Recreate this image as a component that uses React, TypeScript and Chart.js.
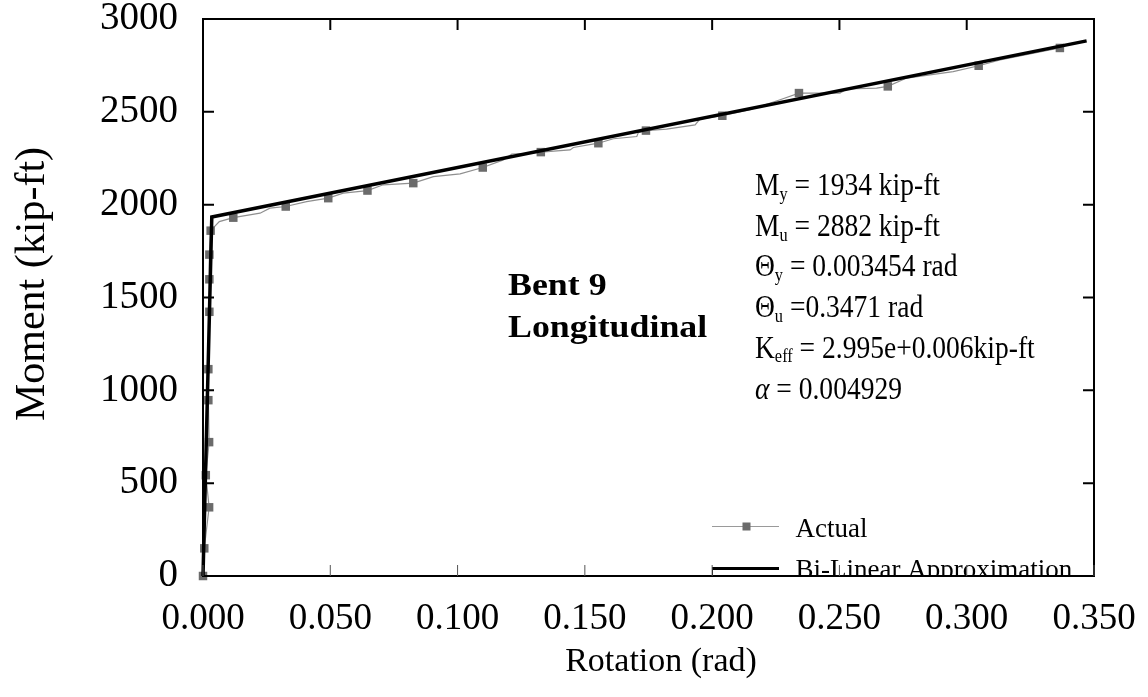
import React, { useEffect, useRef } from "react";
import { Chart, registerables } from "chart.js";

Chart.register(...registerables);

const FONT = '"Liberation Serif", "Times New Roman", serif';

// Measured moment–rotation response; a square marker is shown where actualMarked is 1
const actualRotation = [
  0, 0.0005, 0.0024, 0.0011, 0.0024, 0.0021, 0.0021, 0.0025, 0.0025, 0.0025,
  0.003, 0.0064, 0.0119, 0.0224, 0.0263, 0.0325, 0.0407, 0.0492, 0.0551, 0.0646,
  0.0708, 0.0826, 0.0905, 0.101, 0.1099, 0.118, 0.1213, 0.1285, 0.1327, 0.1442,
  0.1455, 0.1553, 0.1612, 0.1704, 0.171, 0.174, 0.1821, 0.1933, 0.1952, 0.204,
  0.2149, 0.2267, 0.2341, 0.2502, 0.2529, 0.2646, 0.269, 0.2764, 0.2947, 0.3047,
  0.3131, 0.3366,
];
const actualMoment = [
  0, 149, 370, 543, 721, 947, 1114, 1423, 1598, 1731,
  1860, 1909, 1930, 1954, 1981, 1990, 2016, 2035, 2062, 2076,
  2107, 2116, 2151, 2166, 2200, 2241, 2273, 2277, 2283, 2295,
  2308, 2331, 2355, 2367, 2388, 2399, 2407, 2430, 2461, 2479,
  2511, 2565, 2601, 2601, 2623, 2628, 2637, 2682, 2717, 2748,
  2780, 2844,
];
const actualMarked = [
  1, 1, 1, 1, 1, 1, 1, 1, 1, 1,
  1, 0, 1, 0, 0, 1, 0, 1, 0, 1,
  0, 1, 0, 0, 1, 0, 0, 0, 1, 0,
  0, 1, 0, 0, 0, 1, 0, 0, 0, 1,
  0, 0, 1, 0, 0, 0, 1, 0, 0, 1,
  0, 1,
];

// Idealized bi-linear curve
const yieldMoment = 1934;
const ultimateMoment = 2882;
const yieldRotation = 0.003454;
const ultimateRotation = 0.3471;
const bilinearRotation = [0, yieldRotation, ultimateRotation];
const bilinearMoment = [0, yieldMoment, ultimateMoment];

const xTicks = [0, 0.05, 0.1, 0.15, 0.2, 0.25, 0.3, 0.35];
const yTicks = [0, 500, 1000, 1500, 2000, 2500, 3000];

const titleLines = ["Bent 9", "Longitudinal"];
const xTitle = "Rotation (rad)";
const yTitle = "Moment (kip-ft)";
const legendLabels = ["Actual", "Bi-Linear Approximation"];

type Run = { t: string; size: number; dy?: number; style?: string };

// Annotation block: symbol, subscript, remainder
const paramLines: Run[][] = [
  [
    { t: "M", size: 32 },
    { t: "y", size: 19, dy: 5 },
    { t: ` = ${yieldMoment} kip-ft`, size: 32 },
  ],
  [
    { t: "M", size: 32 },
    { t: "u", size: 19, dy: 5 },
    { t: ` = ${ultimateMoment} kip-ft`, size: 32 },
  ],
  [
    { t: "\u0398", size: 32 },
    { t: "y", size: 19, dy: 5 },
    { t: ` = ${yieldRotation} rad`, size: 32 },
  ],
  [
    { t: "\u0398", size: 32 },
    { t: "u", size: 19, dy: 5 },
    { t: ` =${ultimateRotation} rad`, size: 32 },
  ],
  [
    { t: "K", size: 32 },
    { t: "eff", size: 19, dy: 4 },
    { t: " = 2.995e+0.006kip-ft", size: 32 },
  ],
  [
    { t: "\u03b1", size: 32, style: "italic" },
    { t: " = 0.004929", size: 32 },
  ],
];

function drawRuns(ctx: CanvasRenderingContext2D, runs: Run[], x: number, y: number, sx: number) {
  ctx.save();
  ctx.translate(x, y);
  ctx.scale(sx, 1);
  ctx.textAlign = "left";
  ctx.textBaseline = "alphabetic";
  ctx.fillStyle = "#000";
  let cx = 0;
  for (const r of runs) {
    ctx.font = `${r.style ?? ""} ${r.size}px ${FONT}`;
    ctx.fillText(r.t, cx, r.dy ?? 0);
    cx += ctx.measureText(r.t).width;
  }
  ctx.restore();
}

const overlayPlugin = {
  id: "overlay",
  afterDatasetsDraw(chart: any) {
    const ctx: CanvasRenderingContext2D = chart.ctx;
    const a = chart.chartArea;

    // Bold label
    titleLines.forEach((line, i) => {
      ctx.save();
      ctx.translate(508, 295 + i * 42);
      ctx.scale(1.12, 1);
      ctx.font = `bold 32px ${FONT}`;
      ctx.fillStyle = "#000";
      ctx.textBaseline = "alphabetic";
      ctx.fillText(line, 0, 0);
      ctx.restore();
    });

    // Parameter annotations
    paramLines.forEach((runs, i) => drawRuns(ctx, runs, 755, 195 + i * 40.7, 0.86));

    // Legend
    ctx.save();
    ctx.beginPath();
    ctx.rect(a.left, a.top, a.right - a.left, a.bottom - a.top);
    ctx.clip();
    ctx.strokeStyle = "#9a9a9a";
    ctx.lineWidth = 1;
    ctx.beginPath();
    ctx.moveTo(712, 526.5);
    ctx.lineTo(779, 526.5);
    ctx.stroke();
    ctx.fillStyle = "#6b6b6b";
    ctx.fillRect(742.5, 522.5, 8, 8);
    ctx.strokeStyle = "#000";
    ctx.lineWidth = 3;
    ctx.beginPath();
    ctx.moveTo(712, 568.5);
    ctx.lineTo(779, 568.5);
    ctx.stroke();
    ctx.lineWidth = 1;
    ctx.beginPath();
    ctx.moveTo(712.5, 568);
    ctx.lineTo(712.5, a.bottom);
    ctx.stroke();
    ctx.fillStyle = "#000";
    ctx.font = `27px ${FONT}`;
    ctx.textBaseline = "alphabetic";
    ctx.fillText(legendLabels[0], 795.5, 536.5);
    ctx.fillText(legendLabels[1], 795.5, 577.5);
    ctx.restore();
  },
  afterDraw(chart: any) {
    const ctx: CanvasRenderingContext2D = chart.ctx;
    const a = chart.chartArea;
    const xs = chart.scales.x;
    const ys = chart.scales.y;
    ctx.save();
    ctx.strokeStyle = "#000";
    ctx.lineCap = "square";

    // Frame
    ctx.lineWidth = 2;
    ctx.strokeRect(a.left, a.top, a.right - a.left, a.bottom - a.top);

    // Inward tick marks
    ctx.lineCap = "butt";
    for (const v of yTicks) {
      const py = ys.getPixelForValue(v);
      ctx.beginPath();
      ctx.moveTo(a.left, py);
      ctx.lineTo(a.left + 11, py);
      ctx.moveTo(a.right, py);
      ctx.lineTo(a.right - 11, py);
      ctx.stroke();
    }
    for (const v of xTicks) {
      const px = xs.getPixelForValue(v);
      ctx.lineWidth = 2;
      ctx.beginPath();
      ctx.moveTo(px, a.top);
      ctx.lineTo(px, a.top + 11);
      ctx.stroke();
      ctx.lineWidth = 1;
      ctx.strokeStyle = "#555";
      ctx.beginPath();
      ctx.moveTo(px, a.bottom);
      ctx.lineTo(px, a.bottom - 11);
      ctx.stroke();
      ctx.strokeStyle = "#000";
    }

    // Axis titles
    ctx.fillStyle = "#000";
    ctx.font = `34px ${FONT}`;
    ctx.textAlign = "center";
    ctx.textBaseline = "alphabetic";
    ctx.fillText(xTitle, 661, 671);
    ctx.save();
    ctx.translate(33, 284);
    ctx.rotate(-Math.PI / 2);
    ctx.font = `42px ${FONT}`;
    ctx.textBaseline = "middle";
    ctx.fillText(yTitle, 0, 0);
    ctx.restore();
    ctx.restore();
  },
};

// Drop the label-overhang padding so the plot area is set by layout.padding alone
const noOverhang = (s: any) => {
  s.paddingTop = 0;
  s.paddingBottom = 0;
  s.paddingLeft = 0;
  s.paddingRight = 0;
};

export default function App() {
  const ref = useRef<HTMLCanvasElement | null>(null);

  useEffect(() => {
    if (!ref.current) return;
    const chart = new Chart(ref.current, {
      type: "scatter",
      data: {
        datasets: [
          {
            label: legendLabels[1],
            data: bilinearRotation.map((r, i) => ({ x: r, y: bilinearMoment[i] })),
            showLine: true,
            borderColor: "#000",
            borderWidth: 3.5,
            pointRadius: 0,
            clip: 10,
          },
          {
            label: legendLabels[0],
            data: actualRotation.map((r, i) => ({ x: r, y: actualMoment[i] })),
            showLine: true,
            borderColor: "#8f8f8f",
            borderWidth: 1.2,
            pointStyle: "rect",
            pointRadius: actualMarked.map((m) => (m ? 6 : 0)),
            pointBackgroundColor: "#6b6b6b",
            pointBorderWidth: 0,
            clip: 10,
          },
        ],
      },
      options: {
        responsive: false,
        animation: false,
        events: [],
        layout: { padding: { top: 19, right: 54, left: 0, bottom: 0 } },
        plugins: { legend: { display: false }, tooltip: { enabled: false } },
        scales: {
          x: {
            type: "linear",
            min: 0,
            max: 0.35,
            grid: { display: false, drawTicks: false },
            border: { display: false },
            afterBuildTicks: (s: any) => {
              s.ticks = xTicks.map((v) => ({ value: v }));
            },
            afterFit: (s: any) => {
              s.height = 121;
              noOverhang(s);
            },
            ticks: {
              autoSkip: false,
              maxRotation: 0,
              minRotation: 0,
              padding: 25,
              color: "#000",
              font: { family: FONT, size: 37, lineHeight: 1 },
              callback: (v: any) => Number(v).toFixed(3),
            },
          },
          y: {
            type: "linear",
            min: 0,
            max: 3000,
            grid: { display: false, drawTicks: false },
            border: { display: false },
            afterBuildTicks: (s: any) => {
              s.ticks = yTicks.map((v) => ({ value: v }));
            },
            afterFit: (s: any) => {
              s.width = 203;
              noOverhang(s);
            },
            ticks: {
              padding: 25,
              color: "#000",
              font: { family: FONT, size: 39, lineHeight: 1 },
              callback: (v: any) => String(v),
            },
          },
        },
      },
      plugins: [overlayPlugin],
    });
    return () => chart.destroy();
  }, []);

  return (
    <div style={{ position: "absolute", left: 0, top: 0, width: 1148, height: 697, background: "#fff" }}>
      <canvas ref={ref} width={1148} height={697} />
    </div>
  );
}
